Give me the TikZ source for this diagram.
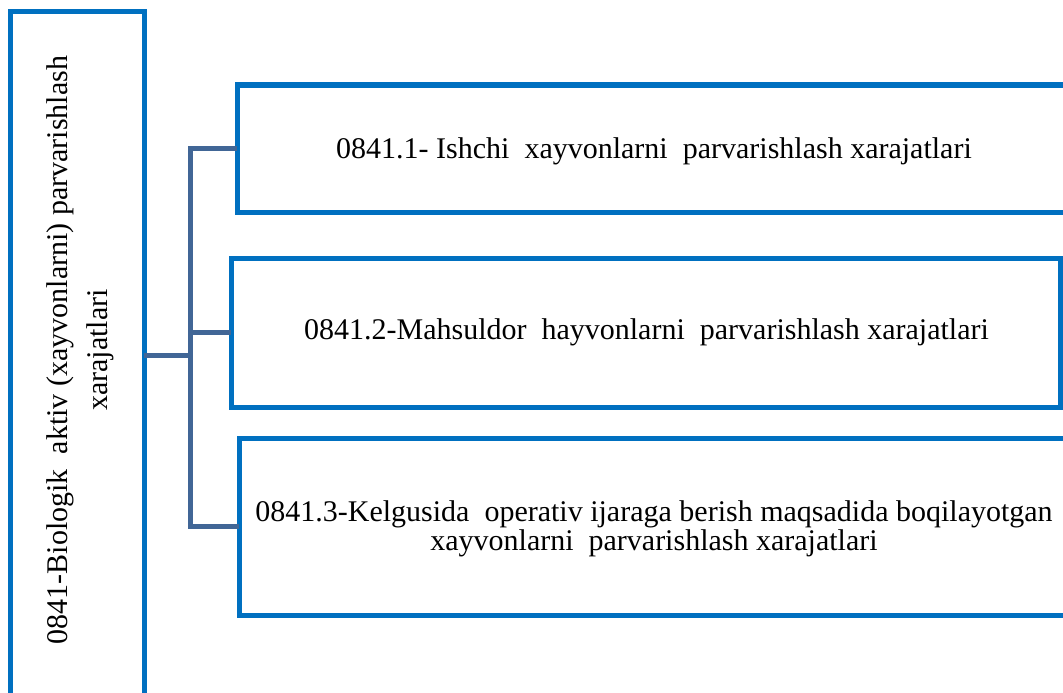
\documentclass[tikz,border=0pt]{standalone}
\usepackage{fontspec}
\setmainfont{Liberation Serif}
\definecolor{boxblue}{RGB}{0,112,192}
\definecolor{connblue}{RGB}{65,102,150}
\begin{document}
\begin{tikzpicture}[x=1pt,y=-1pt,
  box/.style={draw=boxblue, line width=5pt, anchor=north west, inner sep=0pt, outer sep=0pt},
  txt/.style={align=center, inner sep=0pt, font=\fontsize{30}{29}\selectfont},
  conn/.style={draw=connblue, line width=5pt}]
\useasboundingbox (0,0) rectangle (1063,693);
\clip (0,0) rectangle (1063,693);
\fill[white] (0,0) rectangle (1063,693);
% left box
\node[box, minimum width=134pt, minimum height=720pt] (L) at (10,12) {};
\node[txt, rotate=90, font=\fontsize{30}{40}\selectfont] (Lt) at (80,350)
  {0841-Biologik\ \ aktiv (xayvonlarni) parvarishlash\\xarajatlari};
% right boxes
\node[box, minimum width=840pt, minimum height=127pt] (b1) at (237,85) {};
\node[txt] (t1) at ([xshift=-3pt,yshift=-3pt]b1.center)
  {0841.1- Ishchi\ \ xayvonlarni\ \ parvarishlash xarajatlari};
\node[box, minimum width=829pt, minimum height=149pt] (b2) at (231,258) {};
\node[txt] (t2) at ([xshift=1pt]b2.center)
  {0841.2-Mahsuldor\ \ hayvonlarni\ \ parvarishlash xarajatlari};
\node[box, minimum width=840pt, minimum height=177pt] (b3) at (239,438) {};
\node[txt] (t3) at ([xshift=-5pt,yshift=-2pt]b3.center)
  {0841.3-Kelgusida\ \ operativ ijaraga berish maqsadida boqilayotgan\\xayvonlarni\ \ parvarishlash xarajatlari};
% connectors
\coordinate (bus) at (190,355);
\draw[conn] (L.east |- bus) -- (bus);
\draw[conn] (b1.west) -| (bus) |- (b3.west);
\draw[conn] (b2.west) -- (b2.west -| bus);
\end{tikzpicture}
\end{document}
